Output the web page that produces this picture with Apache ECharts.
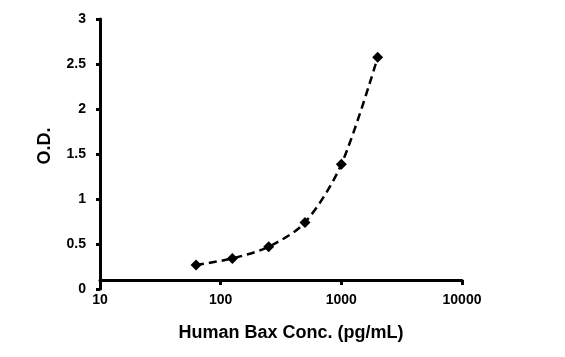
<!DOCTYPE html>
<html>
<head>
<meta charset="utf-8">
<script src="https://cdn.jsdelivr.net/npm/echarts@6/dist/echarts.min.js"></script>
<style>
  html, body { margin: 0; padding: 0; background: #fff; }
  #chart { width: 565px; height: 357px; }
</style>
</head>
<body>
<div id="chart"></div>
<script>
// standard curve data
const conc = [62.5, 125, 250, 500, 1000, 2000]
const od = [0.267, 0.34, 0.47, 0.74, 1.385, 2.574]
const yTicks = [0, 0.5, 1, 1.5, 2, 2.5, 3]

const points = conc.map((c, i) => [c, od[i]])

let mycharts = echarts.init(document.getElementById('chart'))
mycharts.setOption({
  animation: false,
  grid: { left: 100, right: 103, top: 19, bottom: 68 },
  xAxis: {
    type: 'log',
    logBase: 10,
    min: 10,
    max: 10000,
    offset: -9,
    name: 'Human Bax Conc. (pg/mL)',
    nameLocation: 'middle',
    nameGap: 44,
    nameTextStyle: { fontFamily: 'Liberation Sans', fontWeight: 'bold', fontSize: 18, color: '#000', padding: [0, 0, 0, 20] },
    axisLine: { lineStyle: { color: '#000', width: 3 } },
    axisTick: { length: 5, lineStyle: { color: '#000', width: 3 } },
    axisLabel: {
      fontFamily: 'Liberation Sans', fontWeight: 'bold', fontSize: 14, color: '#000', margin: 13,
      formatter: v => String(Math.round(v))
    },
    splitLine: { show: false },
    minorTick: { show: false }
  },
  yAxis: {
    type: 'value',
    min: yTicks[0],
    max: yTicks[yTicks.length - 1],
    interval: 0.5,
    name: 'O.D.',
    nameLocation: 'middle',
    nameGap: 46,
    nameTextStyle: { fontFamily: 'Liberation Sans', fontWeight: 'bold', fontSize: 18, color: '#000', padding: [0, 0, 0, 16] },
    axisLine: { show: true, lineStyle: { color: '#000', width: 3 } },
    axisTick: { show: true, length: 4, lineStyle: { color: '#000', width: 3 } },
    axisLabel: { fontFamily: 'Liberation Sans', fontWeight: 'bold', fontSize: 14, color: '#000', margin: 14 },
    splitLine: { show: false }
  },
  series: [
    {
      type: 'line',
      data: points,
      smooth: 0.3,
      symbol: 'diamond',
      symbolSize: 11,
      itemStyle: { color: '#000' },
      lineStyle: { color: '#000', width: 2.5, type: [8, 5] }
    }
  ]
})
</script>
</body>
</html>
